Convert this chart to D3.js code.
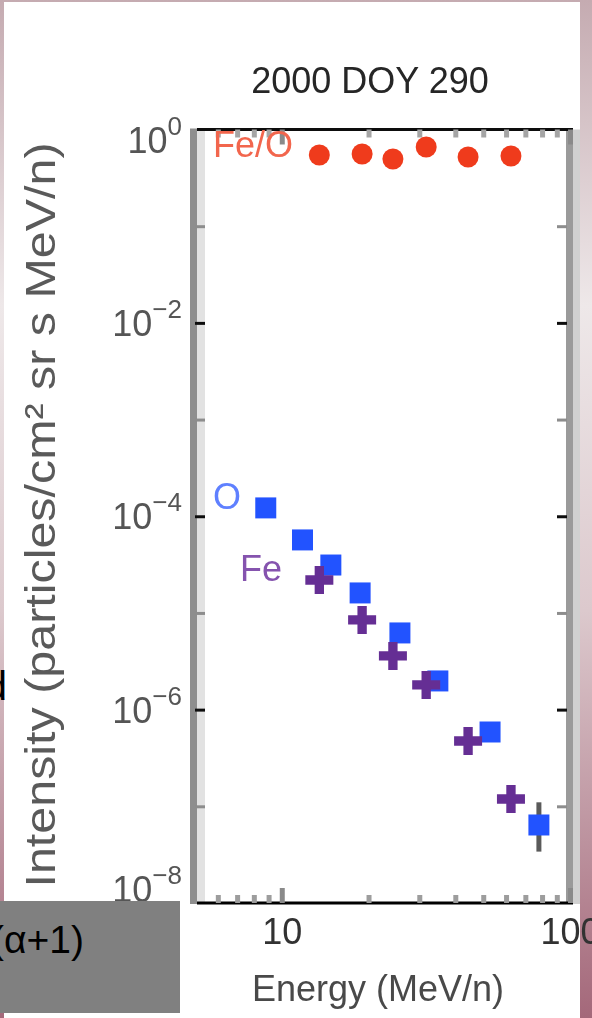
<!DOCTYPE html>
<html>
<head>
<meta charset="utf-8">
<script src="https://cdn.jsdelivr.net/npm/d3@7"></script>
<style>
  html, body { margin: 0; padding: 0; background: #fff; overflow: hidden; }
  svg { display: block; }
</style>
</head>
<body>
<script>
// Event and axis text
const title = "2000 DOY 290";
const xTitle = "Energy (MeV/n)";
const yTitle = "Intensity (particles/cm² sr s MeV/n)";

// Fe energies (MeV/n), Fe/O ratio and Fe intensity
const feEnergy = [13.5, 19.0, 24.3, 31.7, 44.3, 62.4];
const feORatio = [0.545, 0.558, 0.495, 0.659, 0.519, 0.532];
const feIntensity = [2.19e-5, 8.47e-6, 3.59e-6, 1.80e-6, 4.74e-7, 1.19e-7];

// O energies (MeV/n) and intensity
const oEnergy = [8.8, 11.8, 14.8, 18.7, 25.7, 34.8, 52.8, 78.0];
const oIntensity = [1.22e-4, 5.69e-5, 3.13e-5, 1.61e-5, 6.21e-6, 1.98e-6, 5.87e-7, 6.41e-8];
// error range on O (only the highest bin is wider than its marker)
const oErrLow  = [null, null, null, null, null, null, null, 3.4e-8];
const oErrHigh = [null, null, null, null, null, null, null, 1.1e-7];

// Axis ticks
const xMajorTicks = [10, 100];
const xTickLabels = ["10", "100"];
const xMinorTicks = [6, 7, 8, 9, 20, 30, 40, 50, 60, 70, 80, 90];
const yDecadeExponents = [-7, -6, -5, -4, -3, -2, -1];
const yLabelExponents = [0, -2, -4, -6, -8];

const W = 592, H = 1018;
const FONT = "'Liberation Sans', Arial, Helvetica, sans-serif";

const svg = d3.select("body").append("svg")
  .attr("width", W).attr("height", H)
  .attr("viewBox", `0 0 ${W} ${H}`);

const defs = svg.append("defs");
const grad = defs.append("linearGradient").attr("id", "slideBg")
  .attr("x1", 0).attr("y1", 0).attr("x2", 0).attr("y2", 1);
grad.append("stop").attr("offset", "0%").attr("stop-color", "#c5abb1");
grad.append("stop").attr("offset", "30%").attr("stop-color", "#eee8e9");
grad.append("stop").attr("offset", "60%").attr("stop-color", "#dcc9cd");
grad.append("stop").attr("offset", "100%").attr("stop-color", "#a4687a");
defs.append("filter").attr("id", "soft")
  .attr("x", "-5%").attr("y", "-5%").attr("width", "110%").attr("height", "110%")
  .append("feGaussianBlur").attr("stdDeviation", 0.75);

// slide backdrop and white content area
svg.append("rect").attr("width", W).attr("height", H).attr("fill", "url(#slideBg)");
svg.append("rect").attr("x", 4).attr("y", 2).attr("width", 576).attr("height", H - 2).attr("fill", "#fff");

// slide text peeking in from the left
svg.append("text").attr("x", 7).attr("y", 700).attr("text-anchor", "end")
  .attr("font-family", FONT).attr("font-size", 40).attr("fill", "#000").text("d");

// scales
const x = d3.scaleLog().domain([5, 100]).range([195, 570]);
const y = d3.scaleLog().domain([1e-8, 1]).range([903, 129.5]);
const [xL, xR] = x.range();
const [yB, yT] = y.range();

const g = svg.append("g").attr("filter", "url(#soft)");

// frame: left and right sides drawn as soft grey bands, top/bottom black
g.append("rect").attr("x", 190).attr("y", yT - 1).attr("width", 7).attr("height", yB - yT + 2).attr("fill", "#8e8e8e");
g.append("rect").attr("x", 197).attr("y", yT + 1).attr("width", 8).attr("height", yB - yT - 2).attr("fill", "#e2e2e2");
g.append("rect").attr("x", 566).attr("y", yT).attr("width", 7).attr("height", yB - yT + 1).attr("fill", "#9a9a9a");
g.append("rect").attr("x", 573).attr("y", yT).attr("width", 7).attr("height", yB - yT + 1).attr("fill", "#d0d0d0");
g.append("line").attr("x1", 197).attr("x2", 573).attr("y1", yT).attr("y2", yT)
  .attr("stroke", "#111").attr("stroke-width", 3);
g.append("line").attr("x1", 197).attr("x2", 573).attr("y1", yB).attr("y2", yB)
  .attr("stroke", "#000").attr("stroke-width", 3);

function styleTicks(sel, color, width) {
  sel.select(".domain").remove();
  sel.selectAll(".tick line").attr("stroke", color).attr("stroke-width", width);
}

// x minor ticks, bottom and top
g.append("g").attr("transform", `translate(0,${yB})`)
  .call(d3.axisBottom(x).tickValues(xMinorTicks).tickSize(-8).tickFormat(""))
  .call(s => styleTicks(s, "#9d9d9d", 5));
g.append("g").attr("transform", `translate(0,${yT})`)
  .call(d3.axisTop(x).tickValues(xMinorTicks).tickSize(-8).tickFormat(""))
  .call(s => styleTicks(s, "#a5a5a5", 5));

// x major ticks with labels
g.append("g").attr("transform", `translate(0,${yB})`)
  .call(d3.axisBottom(x).tickValues(xMajorTicks).tickSize(-15).tickPadding(15)
    .tickFormat((d, i) => xTickLabels[i]))
  .call(s => {
    styleTicks(s, "#8a8a8a", 5);
    s.selectAll(".tick text").attr("font-family", FONT).attr("font-size", 36)
      .attr("fill", "#333");
  });
g.append("g").attr("transform", `translate(0,${yT})`)
  .call(d3.axisTop(x).tickValues(xMajorTicks).tickSize(-15).tickFormat(""))
  .call(s => styleTicks(s, "#8a8a8a", 5));

// y decade ticks on both sides
const decadeVals = yDecadeExponents.map(e => Math.pow(10, e));
const tickColor = v => (Math.round(Math.log10(v)) % 2 === 0 ? "#111" : "#8d8d8d");
g.append("g").attr("transform", `translate(${xL},0)`)
  .call(d3.axisLeft(y).tickValues(decadeVals).tickSize(-10).tickFormat(""))
  .call(s => {
    s.select(".domain").remove();
    s.selectAll(".tick line").attr("stroke", tickColor).attr("stroke-width", 3);
  });
g.append("g").attr("transform", `translate(${xR - 3},0)`)
  .call(d3.axisRight(y).tickValues(decadeVals).tickSize(-10).tickFormat(""))
  .call(s => {
    s.select(".domain").remove();
    s.selectAll(".tick line").attr("stroke", tickColor).attr("stroke-width", 3);
  });

// y labels: 10 with a raised exponent
const yLab = g.append("g");
yLabelExponents.forEach(e => {
  const base = Math.min(Math.max(y(Math.pow(10, e)) + 13, yT + 23), yB - 1);
  const t = yLab.append("text").attr("x", 182).attr("y", base)
    .attr("text-anchor", "end").attr("font-family", FONT).attr("fill", "#555");
  t.append("tspan").attr("font-size", 36).text("10");
  t.append("tspan").attr("font-size", 26).attr("dy", -18)
    .text(e < 0 ? "\u2212" + Math.abs(e) : String(e));
});

// y title, rotated
g.append("text")
  .attr("transform", "translate(55,515) rotate(-90)")
  .attr("text-anchor", "middle").attr("font-family", FONT).attr("font-size", 42)
  .attr("fill", "#5a5a5a")
  .attr("textLength", 745).attr("lengthAdjust", "spacingAndGlyphs")
  .text(yTitle);

// title and x title
g.append("text").attr("x", 370).attr("y", 93).attr("text-anchor", "middle")
  .attr("font-family", FONT).attr("font-size", 36).attr("fill", "#262626").text(title);
g.append("text").attr("x", 378).attr("y", 1001).attr("text-anchor", "middle")
  .attr("font-family", FONT).attr("font-size", 36).attr("fill", "#4a4a4a").text(xTitle);

// Fe/O ratio
g.append("g").selectAll("path").data(feEnergy).join("path")
  .attr("transform", (d, i) => `translate(${x(d)},${y(feORatio[i])})`)
  .attr("d", d3.symbol(d3.symbolCircle, 346))
  .attr("fill", "#ef3a1b");

// O error bars and markers
g.append("g").selectAll("line").data(oEnergy.map((d, i) => i).filter(i => oErrLow[i] != null)).join("line")
  .attr("x1", i => x(oEnergy[i])).attr("x2", i => x(oEnergy[i]))
  .attr("y1", i => y(oErrHigh[i])).attr("y2", i => y(oErrLow[i]))
  .attr("stroke", "#5a5a5a").attr("stroke-width", 5);
g.append("g").selectAll("path").data(oEnergy).join("path")
  .attr("transform", (d, i) => `translate(${x(d)},${y(oIntensity[i])})`)
  .attr("d", d3.symbol(d3.symbolSquare, 441))
  .attr("fill", "#2453ff");

// Fe markers
g.append("g").selectAll("path").data(feEnergy).join("path")
  .attr("transform", (d, i) => `translate(${x(d)},${y(feIntensity[i])})`)
  .attr("d", d3.symbol(d3.symbolCross, 436))
  .attr("fill", "#652f94");

// series labels
g.append("text").attr("x", 213).attr("y", 157).attr("font-family", FONT).attr("font-size", 36)
  .attr("fill", "#f2664e").text("Fe/O");
g.append("text").attr("x", 213).attr("y", 509).attr("font-family", FONT).attr("font-size", 36)
  .attr("fill", "#5f80ff").text("O");
g.append("text").attr("x", 240).attr("y", 581).attr("font-family", FONT).attr("font-size", 36)
  .attr("fill", "#8553ae").text("Fe");

// grey caption box over the lower left corner
svg.append("rect").attr("x", 0).attr("y", 901).attr("width", 180).attr("height", 112).attr("fill", "#808080");
svg.append("text").attr("x", 84).attr("y", 953).attr("text-anchor", "end")
  .attr("font-family", FONT).attr("font-size", 39).attr("fill", "#000").text("(\u03b1+1)");
</script>
</body>
</html>
